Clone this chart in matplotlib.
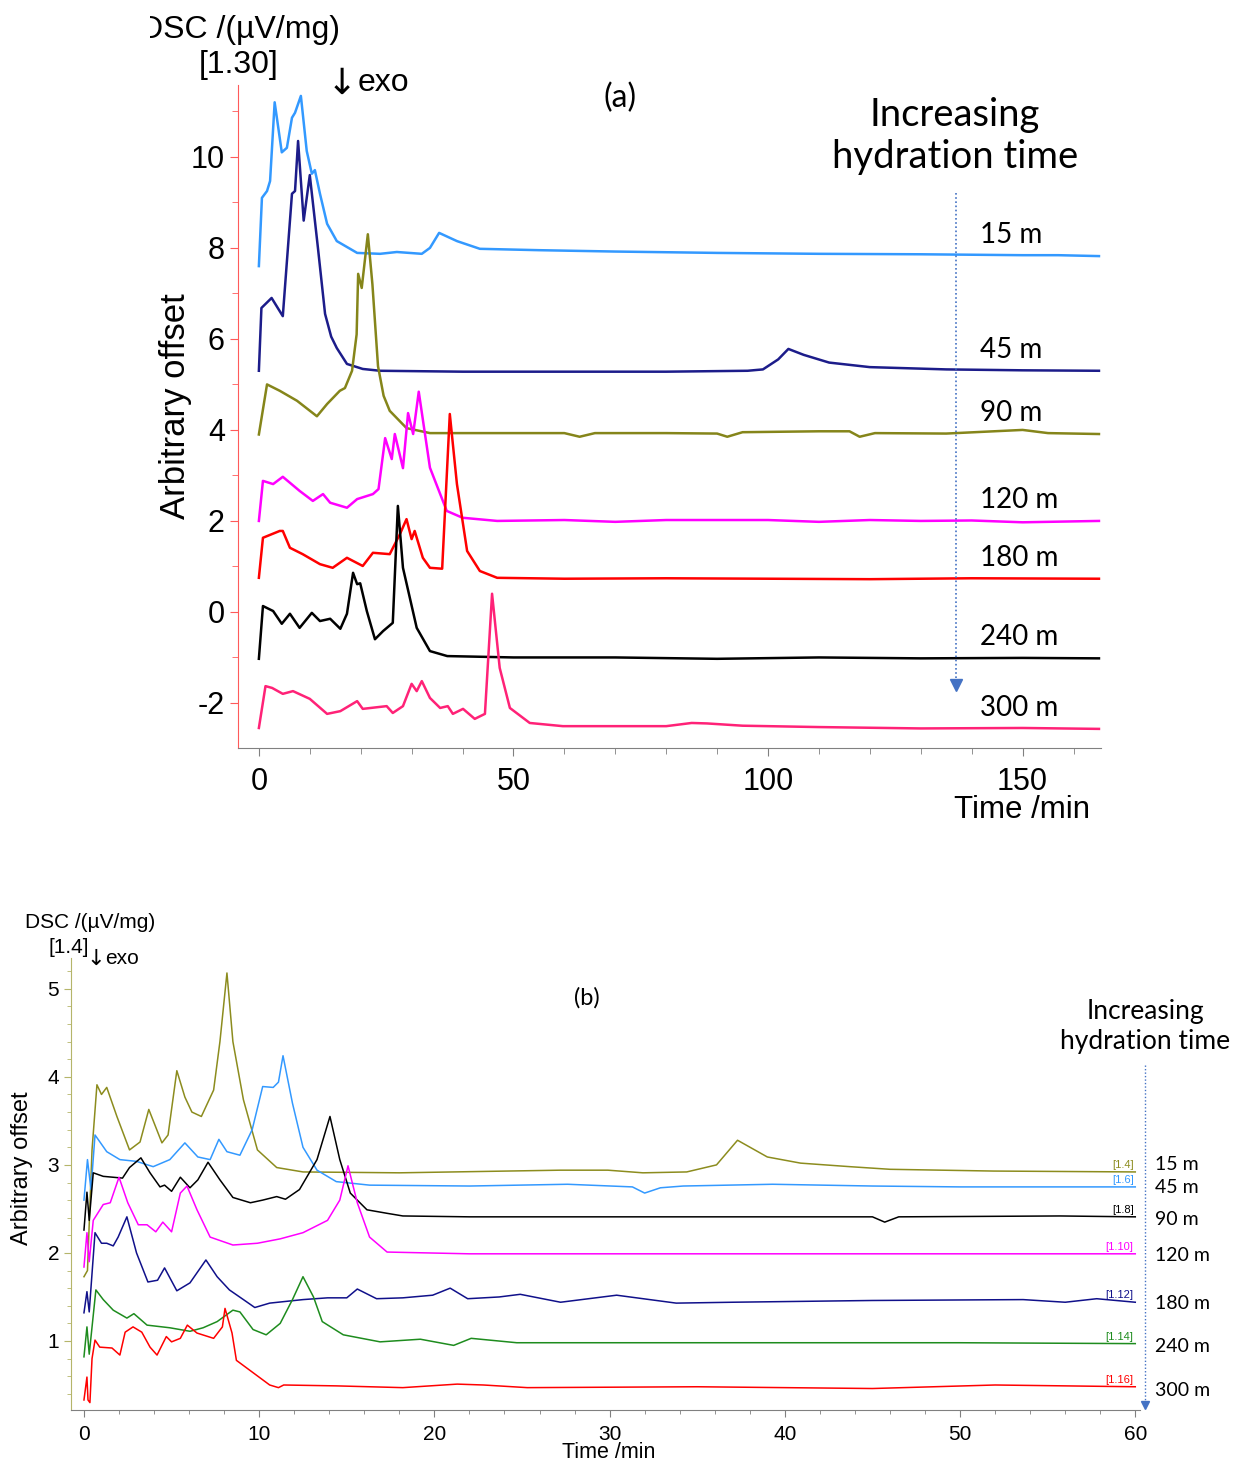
import matplotlib
matplotlib.use("Agg")
import matplotlib.pyplot as plt
from matplotlib.ticker import MultipleLocator
from matplotlib.transforms import Bbox, TransformedBbox

W, H = 1236, 1462

# ---------------- panel (a): 0-165 min ----------------
labels = ["15 m", "45 m", "90 m", "120 m", "180 m", "240 m", "300 m"]

t15a = [0, 0.6, 1.6, 2.2, 3.1, 4.5, 5.5, 6.5, 7.1, 8.25, 9.4, 10.4, 11.0, 12.0, 13.4, 15.3, 19.3, 23.8,
        27.1, 32.0, 33.6, 35.4, 38.9, 43.4, 55, 70, 90, 110, 130, 150, 157, 165]
y15a = [7.6, 9.1, 9.25, 9.47, 11.2, 10.1, 10.2, 10.86, 10.97, 11.34, 10.13, 9.63, 9.71, 9.19, 8.53, 8.15, 7.89, 7.87,
        7.91, 7.87, 8.0, 8.33, 8.15, 7.98, 7.95, 7.92, 7.89, 7.87, 7.86, 7.84, 7.84, 7.82]

t45a = [0, 0.5, 2.5, 4.7, 6.5, 7.1, 7.7, 8.8, 10.0, 11.6, 13.0, 14.2, 15.3, 17.3, 20.4, 23.8, 40, 60, 80, 96,
        99, 102, 104, 107, 112, 120, 135, 150, 165]
y45a = [5.3, 6.68, 6.9, 6.5, 9.19, 9.25, 10.35, 8.6, 9.6, 8.0, 6.55, 6.05, 5.8, 5.45, 5.34, 5.3, 5.28, 5.28, 5.28, 5.3,
        5.33, 5.55, 5.78, 5.65, 5.48, 5.38, 5.33, 5.31, 5.3]

t90a = [0, 1.6, 4.1, 7.5, 11.4, 13.4, 15.9, 16.9, 18.3, 19.2, 19.5, 20.2, 21.4, 22.3, 23.4, 24.5, 25.7, 29.0,
        33.6, 45, 60, 63, 66, 80, 90, 92, 95, 110, 116, 118, 121, 135, 150, 155, 165]
y90a = [3.9, 5.0, 4.86, 4.64, 4.3, 4.57, 4.86, 4.92, 5.3, 6.1, 7.43, 7.12, 8.3, 7.2, 5.4, 4.75, 4.42, 4.04,
        3.93, 3.93, 3.93, 3.85, 3.93, 3.93, 3.92, 3.85, 3.95, 3.97, 3.97, 3.85, 3.93, 3.92, 4.0, 3.93, 3.91]

t120a = [0, 0.8, 2.8, 4.7, 8.0, 10.6, 12.6, 14.0, 17.3, 19.3, 22.4, 23.5, 24.8, 26.1, 26.7, 28.3, 29.3, 30.3,
         31.4, 33.6, 36.9, 40.0, 46.8, 60, 70, 80, 100, 110, 120, 130, 140, 150, 165]
y120a = [2.0, 2.88, 2.81, 2.97, 2.66, 2.44, 2.59, 2.4, 2.29, 2.48, 2.59, 2.7, 3.82, 3.36, 3.91, 3.16, 4.37, 3.91,
         4.84, 3.17, 2.22, 2.07, 2.0, 2.02, 1.98, 2.02, 2.02, 1.98, 2.02, 2.0, 2.01, 1.97, 2.0]

t180a = [0, 0.8, 4.1, 4.7, 6.1, 8.6, 12.0, 14.5, 17.3, 20.4, 22.4, 25.7, 27.7, 29.0, 30.0, 30.6, 32.2, 33.6,
         36.0, 37.5, 38.9, 40.9, 43.4, 46.8, 60, 80, 100, 120, 140, 165]
y180a = [0.75, 1.63, 1.78, 1.78, 1.41, 1.27, 1.05, 0.97, 1.19, 1.01, 1.3, 1.27, 1.71, 2.04, 1.6, 1.78, 1.19, 0.97,
         0.95, 4.35, 2.81, 1.34, 0.9, 0.75, 0.73, 0.74, 0.73, 0.72, 0.74, 0.73]

t240a = [0, 0.8, 2.8, 4.5, 6.1, 8.0, 10.4, 12.0, 14.0, 16.0, 17.3, 18.5, 19.3, 19.9, 21.2, 22.8, 24.4, 26.3,
         27.3, 28.3, 31.0, 33.6, 37.0, 50, 70, 90, 110, 130, 150, 165]
y240a = [-1.03, 0.13, 0.02, -0.26, -0.04, -0.35, -0.02, -0.2, -0.15, -0.37, -0.04, 0.86, 0.61, 0.63, 0.02, -0.6, -0.42, -0.24,
         2.33, 0.97, -0.35, -0.86, -0.97, -1.0, -1.0, -1.03, -1.0, -1.02, -1.01, -1.02]

t300a = [0, 1.3, 2.6, 4.7, 6.7, 10.0, 13.4, 16.0, 19.3, 20.4, 25.1, 26.3, 28.3, 30.0, 31.0, 32.0, 33.6, 35.6,
         37.1, 38.1, 40.1, 42.4, 44.4, 45.8, 47.3, 49.3, 53.2, 59.7, 80, 85, 88, 95, 110, 130, 150, 165]
y300a = [-2.55, -1.63, -1.67, -1.8, -1.74, -1.91, -2.24, -2.18, -1.96, -2.13, -2.07, -2.22, -2.07, -1.58, -1.74, -1.52, -1.89, -2.11,
         -2.07, -2.24, -2.13, -2.35, -2.24, 0.4, -1.23, -2.11, -2.44, -2.51, -2.51, -2.44, -2.45, -2.5, -2.53, -2.56, -2.55, -2.57]

kolory_a = ["#3399ff", "#1c1c8a", "#85851a", "#ff00ff", "#ff0000", "#000000", "#ff2277"]
serie_a = [(t15a, y15a), (t45a, y45a), (t90a, y90a), (t120a, y120a),
           (t180a, y180a), (t240a, y240a), (t300a, y300a)]

# ---------------- panel (b): 0-60 min ----------------
t15b = [0, 0.2, 0.46, 0.74, 1.0, 1.3, 1.88, 2.6, 3.2, 3.7, 4.45, 4.8, 5.3, 5.76, 6.16, 6.7, 7.4, 7.76, 8.16,
        8.5, 9.1, 9.9, 11.0, 12.5, 18, 27.2, 29.9, 31.9, 34.4, 36.1, 37.3, 39.0, 40.9, 43.7, 46.0, 51.9, 60]
y15b = [1.73, 1.8, 3.17, 3.91, 3.8, 3.88, 3.55, 3.17, 3.26, 3.63, 3.25, 3.34, 4.07, 3.77, 3.6, 3.55, 3.85, 4.4, 5.18,
        4.4, 3.74, 3.17, 2.97, 2.92, 2.91, 2.94, 2.94, 2.91, 2.92, 3.0, 3.28, 3.09, 3.02, 2.98, 2.95, 2.93, 2.92]

t45b = [0, 0.2, 0.4, 0.63, 1.3, 2.05, 3.0, 3.95, 4.9, 5.76, 6.5, 7.2, 7.7, 8.16, 8.9, 9.6, 10.2, 10.8, 11.1,
        11.36, 11.9, 12.5, 13.3, 14.4, 16.3, 22, 27.6, 31.3, 32.0, 32.9, 34.2, 39.3, 45, 50, 60]
y45b = [2.6, 3.06, 2.72, 3.34, 3.15, 3.06, 3.04, 2.98, 3.06, 3.25, 3.09, 3.06, 3.29, 3.15, 3.11, 3.4, 3.89, 3.88, 3.94,
        4.24, 3.7, 3.2, 2.94, 2.81, 2.77, 2.76, 2.78, 2.75, 2.68, 2.74, 2.76, 2.78, 2.76, 2.75, 2.75]

t90b = [0, 0.17, 0.3, 0.53, 1.1, 2.2, 2.6, 3.25, 3.77, 4.34, 4.6, 5.0, 5.5, 6.05, 6.5, 7.08, 7.76, 8.5, 9.5,
        10.2, 11.0, 11.5, 12.3, 13.3, 14.04, 14.6, 15.2, 16.15, 17.3, 18.2, 22, 30, 40, 45.0, 45.7, 46.5, 55.7, 60]
y90b = [2.26, 2.69, 2.37, 2.91, 2.87, 2.85, 2.97, 3.08, 2.91, 2.75, 2.77, 2.7, 2.86, 2.74, 2.83, 3.03, 2.83, 2.63, 2.57,
        2.6, 2.64, 2.61, 2.72, 3.06, 3.55, 3.06, 2.68, 2.49, 2.45, 2.42, 2.41, 2.41, 2.41, 2.41, 2.35, 2.41, 2.42, 2.41]

t120b = [0, 0.17, 0.3, 0.53, 1.1, 1.5, 2.0, 2.5, 3.1, 3.6, 4.1, 4.5, 5.0, 5.5, 5.88, 6.45, 7.2, 8.5, 9.9,
         11.2, 12.5, 13.9, 14.6, 15.07, 15.6, 16.3, 17.3, 22, 30, 40, 50, 60]
y120b = [1.84, 2.23, 1.9, 2.37, 2.55, 2.57, 2.86, 2.57, 2.32, 2.32, 2.24, 2.35, 2.24, 2.68, 2.76, 2.49, 2.18, 2.09, 2.11,
         2.16, 2.23, 2.37, 2.6, 2.99, 2.57, 2.18, 2.01, 1.99, 1.99, 1.99, 1.99, 1.99]

t180b = [0, 0.17, 0.3, 0.63, 1.0, 1.3, 1.67, 1.95, 2.45, 3.0, 3.65, 4.2, 4.6, 5.3, 6.05, 6.96, 7.6, 8.3, 9.1,
         9.75, 10.6, 12.5, 13.9, 15.0, 15.6, 16.7, 18.2, 19.9, 20.9, 21.9, 23.7, 24.9, 27.2, 30.4, 33.8, 37.0,
         45, 53.6, 56, 57.8, 60]
y180b = [1.32, 1.56, 1.33, 2.23, 2.11, 2.11, 2.08, 2.18, 2.41, 2.0, 1.67, 1.69, 1.83, 1.57, 1.66, 1.92, 1.73, 1.58, 1.47,
         1.38, 1.43, 1.47, 1.49, 1.49, 1.59, 1.48, 1.49, 1.52, 1.6, 1.48, 1.5, 1.53, 1.44, 1.52, 1.43, 1.44,
         1.46, 1.47, 1.44, 1.48, 1.44]

t240b = [0, 0.17, 0.3, 0.68, 1.1, 1.67, 2.45, 2.85, 3.6, 4.9, 6.05, 6.8, 7.6, 8.5, 8.9, 9.65, 10.4, 11.2, 11.9,
         12.5, 13.1, 13.6, 14.8, 16.9, 19.2, 21.1, 22.1, 24.7, 29.5, 40, 50, 60]
y240b = [0.82, 1.16, 0.85, 1.58, 1.47, 1.35, 1.26, 1.31, 1.18, 1.15, 1.11, 1.15, 1.22, 1.35, 1.33, 1.13, 1.07, 1.2, 1.47,
         1.73, 1.5, 1.22, 1.07, 0.99, 1.02, 0.95, 1.03, 0.98, 0.98, 0.98, 0.98, 0.97]

t300b = [0, 0.17, 0.23, 0.34, 0.46, 0.63, 0.9, 1.6, 2.05, 2.35, 2.8, 3.3, 3.77, 4.17, 4.7, 5.0, 5.5, 5.9, 6.45,
         7.4, 7.9, 8.05, 8.45, 8.7, 9.65, 10.6, 11.1, 11.4, 14.4, 18.2, 21.3, 22.8, 25.3, 35, 45, 52, 60]
y300b = [0.33, 0.59, 0.33, 0.3, 0.8, 1.01, 0.93, 0.92, 0.84, 1.1, 1.16, 1.1, 0.93, 0.84, 1.05, 0.99, 1.03, 1.18, 1.09,
         1.03, 1.16, 1.37, 1.09, 0.78, 0.64, 0.5, 0.47, 0.5, 0.49, 0.47, 0.51, 0.5, 0.47, 0.48, 0.46, 0.5, 0.48]

kolory_b = ["#8c8c1e", "#3399ff", "#000000", "#ff00ff", "#10108a", "#1e8c1e", "#ff0000"]
znaczniki_b = ["[1.4]", "[1.6]", "[1.8]", "[1.10]", "[1.12]", "[1.14]", "[1.16]"]
serie_b = [(t15b, y15b), (t45b, y45b), (t90b, y90b), (t120b, y120b),
           (t180b, y180b), (t240b, y240b), (t300b, y300b)]

# czcionki
sans = ["Liberation Sans", "DejaVu Sans"]
calib = ["Lato", "DejaVu Sans"]
plt.rcParams["font.family"] = sans
plt.rcParams["axes.unicode_minus"] = False   # "-2" jak w oryginale


def px(x, y):
    """piksele obrazka -> ulamki figury"""
    return x / W, 1 - y / H


fig = plt.figure(figsize=(W / 100, H / 100), dpi=100)

# ======================= (a) =======================
ax = fig.add_axes([238 / W, 1 - 748 / H, (1101 - 238) / W, (748 - 85) / H])
for (t, y), k in zip(serie_a, kolory_a):
    ax.plot(t, y, color=k, lw=1.8)
ax.set_xlim(-4.1, 165.4)
ax.set_ylim(-2.99, 11.58)
for s in ["top", "right"]:
    ax.spines[s].set_visible(False)
ax.spines["left"].set_color("#ff5a5a")
ax.spines["bottom"].set_color("#808080")
ax.xaxis.set_major_locator(MultipleLocator(50))
ax.xaxis.set_minor_locator(MultipleLocator(10))
ax.yaxis.set_major_locator(MultipleLocator(2))
ax.yaxis.set_minor_locator(MultipleLocator(1))
ax.tick_params(axis="y", which="both", colors="#ff5a5a", labelcolor="black", labelsize=22)
ax.tick_params(axis="x", which="both", colors="#808080", labelcolor="black", labelsize=22, pad=8)
ax.tick_params(which="major", length=6)
ax.tick_params(which="minor", length=4)

# opisy krzywych
for (t, y), lab in zip(serie_a, labels):
    ax.text(141.6, y[-1] + 0.46, lab, fontsize=20, family=calib, va="center", ha="left")

# strzalka "Increasing hydration time"
ax.plot([137, 137], [9.2, -1.55], color="#4472c4", lw=1.2, ls=(0, (1, 1.5)))
ax.plot([137], [-1.6], marker="v", color="#4472c4", ms=9)

fx, fy = px(340, 30)
t = fig.text(fx, fy, "DSC /(µV/mg)", fontsize=23, ha="right", va="center")
t.set_clip_box(TransformedBbox(Bbox([[150 / W, 0], [1, 1]]), fig.transFigure))
t.set_clip_on(True)
fig.text(*px(239, 65), "[1.30]", fontsize=23, ha="center", va="center")
fig.text(*px(342, 84), "↓", fontsize=26, family=["DejaVu Sans"], ha="center", va="center")
fig.text(*px(358, 83), "exo", fontsize=23, ha="left", va="center")
fig.text(*px(620, 98), "(a)", fontsize=23, family=calib, ha="center", va="center")
fig.text(*px(955, 136), "Increasing\nhydration time", fontsize=27.5, family=calib,
         ha="center", va="center", linespacing=1.2)
fig.text(*px(176, 406), "Arbitrary offset", fontsize=25, rotation=90, ha="center", va="center")
fig.text(*px(1090, 810), "Time /min", fontsize=22.5, ha="right", va="center")

# ======================= (b) =======================
bx = fig.add_axes([71 / W, 1 - 1410 / H, (1140 - 71) / W, (1410 - 958) / H])
for (t, y), k, zn in zip(serie_b, kolory_b, znaczniki_b):
    bx.plot(t, y, color=k, lw=1.1)
    bx.text(59.9, y[-1] + 0.02, zn, color=k, fontsize=8, ha="right", va="bottom")
bx.set_xlim(-0.74, 60.27)
bx.set_ylim(0.216, 5.35)
for s in ["top", "right"]:
    bx.spines[s].set_visible(False)
bx.spines["left"].set_color("#b5b56a")
bx.spines["bottom"].set_color("#808080")
bx.xaxis.set_major_locator(MultipleLocator(10))
bx.xaxis.set_minor_locator(MultipleLocator(2))
bx.yaxis.set_major_locator(MultipleLocator(1))
bx.yaxis.set_minor_locator(MultipleLocator(0.2))
bx.tick_params(axis="y", which="both", colors="#b5b56a", labelcolor="black", labelsize=15)
bx.tick_params(axis="x", which="both", colors="#808080", labelcolor="black", labelsize=15, pad=6)
bx.tick_params(which="major", length=5)
bx.tick_params(which="minor", length=3)

przes = [0.09, -0.01, -0.03, -0.02, -0.02, -0.03, -0.04]
for (t, y), lab, d in zip(serie_b, labels, przes):
    bx.text(61.1, y[-1] + d, lab, fontsize=14, family=calib, va="center", ha="left", clip_on=False)

bx.plot([60.56, 60.56], [4.14, 0.3], color="#4472c4", lw=1.0, ls=(0, (1, 1.5)), clip_on=False)
bx.plot([60.56], [0.27], marker="v", color="#4472c4", ms=6, clip_on=False)

fig.text(*px(25, 923), "DSC /(µV/mg)", fontsize=15, ha="left", va="center")
fig.text(*px(69, 947), "[1.4]", fontsize=15, ha="center", va="center")
fig.text(*px(96, 959), "↓", fontsize=16, family=["DejaVu Sans"], ha="center", va="center")
fig.text(*px(105, 958), "exo", fontsize=15, ha="left", va="center")
fig.text(*px(587, 998), "(b)", fontsize=17, family=calib, ha="center", va="center")
fig.text(*px(1145, 1026), "Increasing\nhydration time", fontsize=19, family=calib,
         ha="center", va="center", linespacing=1.25)
fig.text(*px(22, 1168), "Arbitrary offset", fontsize=17, rotation=90, ha="center", va="center")
fig.text(*px(609, 1452), "Time /min", fontsize=15.5, ha="center", va="center")

fig.savefig("out.png", dpi=100)
